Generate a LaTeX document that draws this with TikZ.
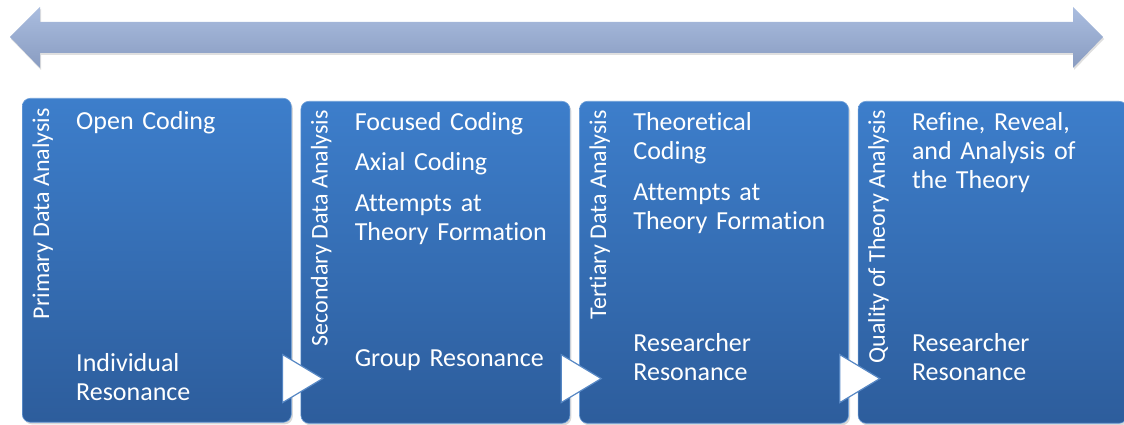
\documentclass[tikz,border=0pt]{standalone}
\usepackage{fontspec}
\setmainfont{Carlito}[Ligatures=NoCommon]
\usetikzlibrary{positioning,shadows,calc}

\definecolor{boxtop}{RGB}{61,126,203}
\definecolor{boxbot}{RGB}{45,93,156}
\definecolor{barhi}{RGB}{170,189,223}
\definecolor{barlo}{RGB}{137,156,193}
\definecolor{markline}{RGB}{86,135,196}

\begin{document}
\begin{tikzpicture}[%
    x=1pt, y=1pt,               % One unit is one pixel of the layout
    node distance=9pt,          % Gap between the stage boxes
    ]
% -------------------------------------------------
% A few box styles
\tikzset{
  stage/.style={rounded corners=8pt, top color=boxtop, bottom color=boxbot,
    draw=boxtop!75!white, line width=0.6pt, inner sep=0pt,
    minimum width=269pt, minimum height=322pt, anchor=north west,
    drop shadow={shadow xshift=1.5pt, shadow yshift=-2pt, opacity=0.3}},
  side/.style={rotate=90, anchor=base east, text=white, inner sep=0pt,
    font=\fontsize{24}{28}\selectfont},
  item/.style={anchor=base west, align=left, text width=215pt, text=white,
    inner sep=0pt, font=\fontsize{26}{29}\selectfont},
  % Step marks and the two-way bar
  nextmark/.style={fill=white, draw=markline, line width=1.2pt},
  timeline/.style={top color=barhi, bottom color=barlo,
    drop shadow={shadow xshift=1pt, shadow yshift=-2pt, opacity=0.25}}
}
\useasboundingbox (0,0) rectangle (1124,425);
% -------------------------------------------------
% Two-way bar across the top
\path[timeline] (10,388) -- (40,418) -- (40,403) -- (1073,403) -- (1073,418)
  -- (1103,388) -- (1073,357) -- (1073,372) -- (40,372) -- (40,357) -- cycle;
% -------------------------------------------------
% Start by placing the boxes
\node[stage, minimum height=324pt] (b1) at (22,327) {};
\node[stage, right=of b1.north east, anchor=north west, yshift=-3pt] (b2) {};
\node[stage, right=of b2.north east, anchor=north west] (b3) {};
\node[stage, right=of b3.north east, anchor=north west] (b4) {};
% -------------------------------------------------
% Side labels
\node[side] (s1) at ([xshift=27pt, yshift=-10pt]b1.north west) {Primary Data Analysis};
\node[side] (s2) at ([xshift=27pt, yshift=-9pt]b2.north west) {Secondary Data Analysis};
\node[side] (s3) at ([xshift=27pt, yshift=-9pt]b3.north west) {Tertiary Data Analysis};
\node[side] (s4) at ([xshift=27pt, yshift=-9pt]b4.north west) {Quality of Theory Analysis};
% -------------------------------------------------
% Box contents
\node[item] (o1) at ([xshift=54pt, yshift=-32pt]b1.north west) {Open Coding};
\node[item] (r1) at ([xshift=54pt, yshift=-274pt]b1.north west) {Individual\\Resonance};

\node[item] (f2) at ([xshift=54pt, yshift=-30pt]b2.north west) {Focused Coding};
\node[item] (x2) at ([xshift=54pt, yshift=-70pt]b2.north west) {Axial Coding};
\node[item] (a2) at ([xshift=54pt, yshift=-111pt]b2.north west) {Attempts at\\Theory Formation};
\node[item] (r2) at ([xshift=54pt, yshift=-266pt]b2.north west) {Group Resonance};

\node[item] (t3) at ([xshift=54pt, yshift=-30pt]b3.north west) {Theoretical\\Coding};
\node[item] (a3) at ([xshift=54pt, yshift=-100pt]b3.north west) {Attempts at\\Theory Formation};
\node[item] (r3) at ([xshift=54pt, yshift=-251pt]b3.north west) {Researcher\\Resonance};

\node[item] (t4) at ([xshift=54pt, yshift=-30pt]b4.north west) {Refine, Reveal,\\and Analysis of\\the Theory};
\node[item] (r4) at ([xshift=54pt, yshift=-251pt]b4.north west) {Researcher\\Resonance};
% -------------------------------------------------
% Step marks between the boxes
\draw[nextmark] ($(b1.south east)+(-9,68)$) -- ++(40,-24) -- ++(-40,-24) -- cycle;
\draw[nextmark] ($(b2.south east)+(-9,69)$) -- ++(40,-24) -- ++(-40,-24) -- cycle;
\draw[nextmark] ($(b3.south east)+(-9,69)$) -- ++(40,-24) -- ++(-40,-24) -- cycle;
% -------------------------------------------------
\end{tikzpicture}
\end{document}
